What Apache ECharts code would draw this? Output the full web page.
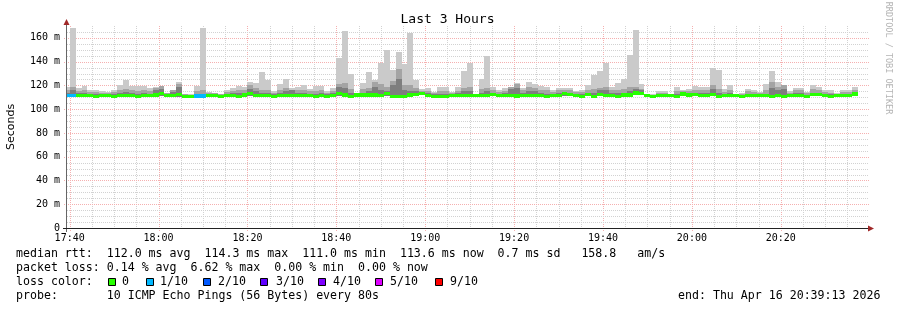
<!DOCTYPE html>
<html><head><meta charset="utf-8">
<script src="https://cdn.jsdelivr.net/npm/echarts@6/dist/echarts.min.js"></script>
<style>html,body{margin:0;padding:0;background:#fff}#c{width:897px;height:310px}</style>
</head><body><div id="c"></div>
<script>
// ---- data (times in minutes after 17:00; steps of 80 s) ----
const firstStepMinute = 38 + 40 / 60;   // 17:38:40
const stepMinutes = 80 / 60;
const xMin = 39.4, xMax = 219.4;          // 17:39 .. 20:39
const xLabelMinutes = [40, 60, 80, 100, 120, 140, 160, 180, 200];

const pingMax = [119,168.7,118.2,119.3,116,116.5,115.4,114.5,116.5,120.5,
 124.9,119.3,119.3,119.6,117.6,118.5,119.6,113.7,116.5,123,
 113,112.5,119.3,168.7,114.8,114,113,116.5,117.6,119.6,
 118.5,123,122,131.4,124.6,115.4,121.3,125.5,118.2,119,
 120.4,116.8,119.6,119.6,115.4,118.2,143.4,165.9,129.4,113.7,
 122.1,131.4,124.6,139.2,149.9,133.3,148.2,138.1,164.2,124.6,
 117,118.2,114.5,119,118.5,114.5,119,132.2,139.2,113,
 125.5,144.8,118.7,116,117.9,118.7,122.1,118.2,123,121.3,
 119.3,119,116,118.2,117.6,117.6,115.1,116.2,120.4,128.8,
 132.2,139.2,118.5,122.4,125.5,145.7,166.7,121.3,113,113,
 115.6,115.6,113,118.7,116,117,119.6,118.7,118.7,135,
 133.3,116.8,120.4,112.8,113.7,117,116,114.5,121.3,132.5,
 123,117,115.4,118.2,118.2,114.5,120.4,118.7,116,116,
 113.7,116,116,118.7];
const ping9 = [116,119,115.5,116,114.5,114.5,114,113.8,114.5,116.5,
 117,116,115.5,116,115,117.6,119.6,113.2,116,121,
 112.5,112.3,115.5,116,113.5,113.2,112.5,114.5,115,116,
 116.5,120.4,118,116,116,114,116.5,118,116.5,116,
 116.5,115,115.5,116,114,115.5,121,122,117,113.2,
 117,118,123,121.5,119,123.5,134,120,120,118,
 115,115.5,113.5,115,115,113.5,115.5,118,119,112.5,
 117,118,116,114.5,115.5,119,121,116,119,118,
 116,116,114.5,116,116,116,114.2,114.5,116.5,117,
 118,119,116,116.5,117,119,119,117,112.5,112.3,
 114,114,112.5,115.5,115,115,116.5,116,116,120.4,
 117,114.5,116.5,112.5,112.5,115,114.5,113.5,116,123,
 118.7,120.4,114,116,116,113.5,117,116,114.5,114,
 112.8,114.5,114.5,116.5];
const ping8 = [114,116,113.5,113.8,113,112.5,112.8,112.8,112.5,114,
 114.5,113.5,113,113.5,113,116,117,112.6,114.5,118.5,
 111.8,111.8,113,113,112.5,112.3,111.8,113,113.2,113.5,
 114,117,115,114,113.5,112.5,113.8,115,116,114,
 114,113,113,113.5,112.5,113.5,119,118,114,112.6,
 114,115,119,116,115.5,120,125,116,115,115,
 114.3,113.5,112.5,113,113,112.5,113.5,115,115.5,111.8,
 114,115,114,113,113.5,117,118,113.5,115,115,
 113.5,113,113,113.5,114.2,114,113,112.5,114,114,
 116,116,114,113.5,114,115,117,116,112,111.8,
 112.5,112.5,112,113,114,113,114,113.5,113.5,117,
 114,113,113.5,112,111.8,113,113,112.5,113,118,
 116,117,113,113.5,113.5,112,114,114,113,112.5,
 112.3,113,113,114];
const median = [111.2,111.2,111.7,111.7,111.7,110.9,111.6,111.6,111.0,111.7,
 111.7,111.7,111.0,111.7,111.7,112.0,113.0,111.7,111.7,112.2,
 111.0,111.0,111.1,111.1,111.4,111.4,111.0,111.7,111.7,111.0,
 112.0,113.0,111.7,111.7,111.7,111.0,111.7,111.7,111.7,111.7,
 111.7,111.7,111.0,111.7,111.0,111.7,112.9,112.0,111.0,111.9,
 111.9,111.9,112.0,111.6,113.0,111.0,111.0,111.0,111.9,112.6,
 113.5,111.7,111.0,111.0,111.0,111.7,111.7,111.7,111.7,111.7,
 111.7,111.7,112.1,111.7,111.7,111.7,111.1,111.7,111.7,111.7,
 111.7,111.0,111.7,111.7,113.2,112.5,111.7,111.0,112.1,111.0,
 112.2,111.7,111.7,111.0,111.9,111.9,113.6,113.4,111.7,111.0,
 111.7,111.7,111.7,111.0,112.7,111.9,112.4,111.7,111.7,112.1,
 111.0,111.7,111.7,111.7,111.0,111.7,111.7,111.7,111.7,111.0,
 111.7,111.0,111.7,111.7,111.7,111.0,112.4,112.4,111.7,111.0,
 111.7,111.7,111.3,112.8];
const pingMin = [110.2,110.2,110.5,110.5,110.5,109.8,110.4,110.4,109.9,110.5,
 110.5,110.5,109.9,110.5,110.5,110.6,111.2,110.5,110.5,110.6,
 109.9,109.9,110.0,110.0,110.3,110.3,109.9,110.5,110.5,109.9,
 110.5,111.3,110.5,110.5,110.5,109.9,110.5,110.5,110.5,110.5,
 110.5,110.5,109.9,110.5,109.8,110.5,111.5,110.7,109.9,110.7,
 110.7,110.7,110.8,110.5,111.5,109.9,109.9,109.9,110.6,111.3,
 112.0,110.5,109.9,109.9,109.9,110.5,110.5,110.5,110.5,110.5,
 110.5,110.5,110.8,110.5,110.5,110.5,110.0,110.5,110.5,110.5,
 110.5,109.9,110.5,110.5,111.2,111.2,110.5,109.9,110.8,109.9,
 110.9,110.5,110.5,109.9,110.7,110.7,112.0,111.6,110.5,109.9,
 110.5,110.5,110.5,109.9,111.2,110.7,111.1,110.5,110.5,110.9,
 109.9,110.5,110.5,110.5,109.9,110.5,110.5,110.5,110.5,109.8,
 110.5,109.9,110.5,110.5,110.5,109.9,111.1,111.1,110.5,109.9,
 110.5,110.5,110.2,111.3];
const lossIndex = [1,1,0,0,0,0,0,0,0,0, 0,0,0,0,0,0,0,0,0,0, 0,0,1,1,0,0,0,0,0,0,
 0,0,0,0,0,0,0,0,0,0, 0,0,0,0,0,0,0,0,0,0, 0,0,0,0,0,0,0,0,0,0,
 0,0,0,0,0,0,0,0,0,0, 0,0,0,0,0,0,0,0,0,0, 0,0,0,0,0,0,0,0,0,0,
 0,0,0,0,0,0,0,0,0,0, 0,0,0,0,0,0,0,0,0,0, 0,0,0,0,0,0,0,0,0,0,
 0,0,0,0,0,0,0,0,0,0, 0,0,0,0];
const lossLabels = ['0', '1/10', '2/10', '3/10', '4/10', '5/10', '9/10'];
const lossColors = ['#26ff00', '#00b8ff', '#0059ff', '#5e00ff', '#7e00ff', '#dd00ff', '#ff0000'];
const smokeColors = ['#cacaca', '#a4a4a4', '#7e7e7e'];

const legendRows = [
  'median rtt:  112.0 ms avg  114.3 ms max  111.0 ms min  113.6 ms now  0.7 ms sd   158.8   am/s',
  'packet loss: 0.14 % avg  6.62 % max  0.00 % min  0.00 % now',
  'loss color:',
  'probe:       10 ICMP Echo Pings (56 Bytes) every 80s'
];
const endText = 'end: Thu Apr 16 20:39:13 2026';

// ---- build ----
const items = pingMax.map((v, i) => {
  const t0 = firstStepMinute + i * stepMinutes;
  return [t0, t0 + stepMinutes, pingMin[i], ping8[i], ping9[i], v, median[i], lossIndex[i]];
});

function renderItem(params, api) {
  const t0 = Math.max(api.value(0), xMin), t1 = Math.min(api.value(1), xMax);
  if (t1 <= t0) return null;
  const x0 = Math.round(api.coord([t0, 0])[0]);
  const x1 = Math.round(api.coord([t1, 0])[0]);
  const py = v => Math.round(api.coord([t0, v])[1]);
  const band = (lo, hi, color) => {
    const yt = py(hi), yb = py(lo);
    return { type: 'rect', shape: { x: x0, y: yt, width: x1 - x0, height: Math.max(1, yb - yt) }, style: { fill: color } };
  };
  const lo = api.value(2), med = api.value(6);
  return {
    type: 'group',
    children: [
      band(lo, api.value(5), smokeColors[0]),
      band(lo, api.value(4), smokeColors[1]),
      band(lo, api.value(3), smokeColors[2]),
      band(med - 1.35, med + 1.35, lossColors[api.value(7)])
    ]
  };
}

// grid lines (orientation 0 = vertical at a time, 1 = horizontal at a value)
const gridItems = [];
for (let m = 40; m <= 215; m += 5) gridItems.push([0, m, m % 20 === 0 ? 1 : 0]);
for (let v = 5; v <= 165; v += 5) gridItems.push([1, v, v % 20 === 0 ? 1 : 0]);

function renderGrid(params, api) {
  const o = api.value(0), v = api.value(1), major = api.value(2);
  const color = major ? '#f5b0b0' : '#d2d2d2';
  let shape;
  if (o === 0) {
    const x = Math.round(api.coord([v, 0])[0]) + 0.5;
    const yTop = api.coord([v, 170])[1], yBot = api.coord([v, 0])[1];
    shape = { x1: x, y1: yTop, x2: x, y2: yBot + (major ? 3 : 0) };
  } else {
    const y = Math.round(api.coord([xMin, v])[1]) + 0.5;
    const xl = api.coord([xMin, v])[0], xr = api.coord([xMax, v])[0];
    shape = { x1: xl - (major ? 3 : 0), y1: y, x2: xr + 2, y2: y };
  }
  return { type: 'line', shape: shape, style: { stroke: color, lineWidth: 1, lineDash: [1, 1] } };
}

const mono = 'DejaVu Sans Mono';
const fmtTime = v => { const h = 17 + Math.floor(v / 60), m = Math.round(v % 60); return h + ':' + (m < 10 ? '0' + m : m); };

const graphics = [
  { type: 'text', style: { x: 447.5, y: 19.5, text: 'Last 3 Hours', font: '13px "' + mono + '"', fill: '#000', textAlign: 'center', textVerticalAlign: 'middle' } },
  { type: 'text', x: 11, y: 127, rotation: Math.PI / 2, style: { x: 0, y: 0, text: 'Seconds', font: '11px "DejaVu Sans"', fill: '#000', textAlign: 'center', textVerticalAlign: 'middle' } },
  { type: 'text', x: 888, y: 58, rotation: -Math.PI / 2, style: { x: 0, y: 0, text: 'RRDTOOL / TOBI OETIKER', font: '8.5px "' + mono + '"', fill: '#b4b4b4', textAlign: 'center', textVerticalAlign: 'middle' } },
  { type: 'line', shape: { x1: 66.5, y1: 24, x2: 66.5, y2: 232 }, style: { stroke: '#666', lineWidth: 1 }, z: 10 },
  { type: 'line', shape: { x1: 63, y1: 228.5, x2: 869, y2: 228.5 }, style: { stroke: '#222', lineWidth: 1 }, z: 10 },
  { type: 'polygon', shape: { points: [[66.5, 19], [63.5, 25], [69.5, 25]] }, style: { fill: '#a02828' }, z: 10 },
  { type: 'polygon', shape: { points: [[874, 228.5], [868, 225.5], [868, 231.5]] }, style: { fill: '#a02828' }, z: 10 },
  { type: 'text', style: { x: 678, y: 296, text: endText, font: '11.6px "' + mono + '"', fill: '#000', textVerticalAlign: 'middle' } }
];
const rowY = [254, 268, 282, 296];
legendRows.forEach((t, i) => graphics.push({ type: 'text', style: { x: 16, y: rowY[i], text: t, font: '11.6px "' + mono + '"', fill: '#000', textVerticalAlign: 'middle' } }));
const boxX = [108, 146, 203, 260, 318, 375, 435];
const lblX = [122, 160, 218, 276, 333, 390, 450];
lossLabels.forEach((l, i) => {
  graphics.push({ type: 'rect', shape: { x: boxX[i] + 0.5, y: 278.5, width: 7, height: 7 }, style: { fill: lossColors[i], stroke: '#000', lineWidth: 1 } });
  graphics.push({ type: 'text', style: { x: lblX[i], y: 282, text: l, font: '11.6px "' + mono + '"', fill: '#000', textVerticalAlign: 'middle' } });
});

const chart = echarts.init(document.getElementById('c'), null, { renderer: 'canvas' });
chart.setOption({
  animation: false,
  backgroundColor: '#ffffff',
  grid: { left: 67, top: 26, width: 800, height: 202 },
  xAxis: {
    type: 'value', min: xMin, max: xMax,
    axisLine: { show: false }, axisTick: { show: false }, splitLine: { show: false },
    axisLabel: { customValues: xLabelMinutes, formatter: fmtTime, color: '#000', fontFamily: mono, fontSize: 10, margin: 5 }
  },
  yAxis: {
    type: 'value', min: 0, max: 170, interval: 20,
    axisLine: { show: false }, axisTick: { show: false }, splitLine: { show: false },
    axisLabel: { formatter: v => v === 0 ? '0' : v + ' m', showMaxLabel: false, color: '#000', fontFamily: mono, fontSize: 10, margin: 7 }
  },
  series: [
    { type: 'custom', renderItem: renderGrid, data: gridItems, z: 1, silent: true, clip: false },
    { type: 'custom', renderItem: renderItem, data: items, z: 2, silent: true, clip: true }
  ],
  graphic: graphics
});
</script></body></html>
